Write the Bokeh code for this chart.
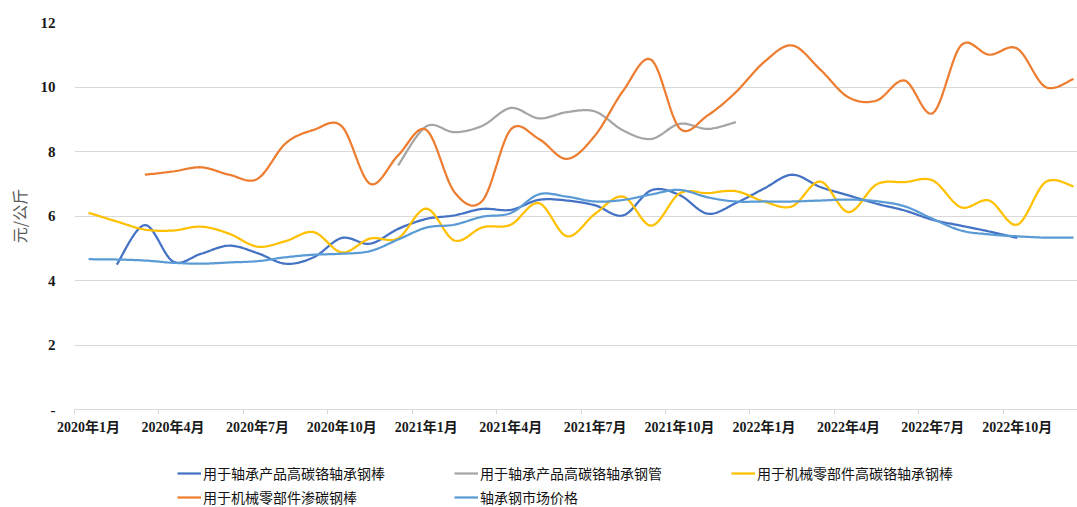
import numpy as np
from bokeh.plotting import figure
from bokeh.layouts import column
from bokeh.models import FixedTicker, Legend, LegendItem, Range1d
from bokeh.embed import file_html
from bokeh.resources import INLINE

nan = float("nan")

# categories: monthly, 2020-01 .. 2022-12
months = [f"{y}年{m}月" for y in (2020, 2021, 2022) for m in range(1, 13)]
tick_idx = list(range(0, 36, 3))
y_ticks = [0, 2, 4, 6, 8, 10, 12]
y_labels = {0: "-", 2: "2", 4: "4", 6: "6", 8: "8", 10: "10", 12: "12"}

names = ["用于轴承产品高碳铬轴承钢棒", "用于轴承产品高碳铬轴承钢管", "用于机械零部件高碳铬轴承钢棒",
         "用于机械零部件渗碳钢棒", "轴承钢市场价格"]

bearing_bar = [nan, 4.49, 5.72, 4.59, 4.83, 5.08, 4.85, 4.52, 4.72, 5.32, 5.14, 5.60,
               5.91, 6.02, 6.22, 6.19, 6.50, 6.48, 6.33, 6.02, 6.80, 6.65, 6.07, 6.40,
               6.85, 7.28, 6.90, 6.64, 6.38, 6.17, 5.88, 5.70, 5.52, 5.32, nan, nan]
bearing_pipe = [nan] * 11 + [7.57, 8.78, 8.60, 8.80, 9.35, 9.03, 9.22, 9.24, 8.65, 8.39,
                             8.86, 8.70, 8.91] + [nan] * 12
mech_gcr_bar = [6.10, 5.83, 5.58, 5.55, 5.67, 5.45, 5.05, 5.22, 5.50, 4.87, 5.30, 5.31,
                6.23, 5.24, 5.65, 5.73, 6.40, 5.37, 6.07, 6.60, 5.70, 6.70, 6.71, 6.77,
                6.45, 6.30, 7.07, 6.12, 6.98, 7.05, 7.10, 6.27, 6.48, 5.73, 7.05, 6.92]
mech_carb_bar = [nan, nan, 7.28, 7.38, 7.51, 7.28, 7.15, 8.25, 8.67, 8.78, 7.00, 7.88,
                 8.67, 6.74, 6.48, 8.68, 8.39, 7.77, 8.50, 9.89, 10.84, 8.72, 9.12, 9.84,
                 10.77, 11.29, 10.54, 9.68, 9.58, 10.20, 9.19, 11.29, 11.00, 11.19, 10.00, 10.25]
market_price = [4.66, 4.65, 4.62, 4.55, 4.52, 4.56, 4.60, 4.72, 4.80, 4.83, 4.91, 5.27,
                5.64, 5.73, 5.98, 6.09, 6.67, 6.60, 6.45, 6.50, 6.67, 6.81, 6.58, 6.45,
                6.45, 6.45, 6.48, 6.51, 6.46, 6.30, 5.91, 5.55, 5.43, 5.37, 5.33, 5.33]

series = [bearing_bar, bearing_pipe, mech_gcr_bar, mech_carb_bar, market_price]
colors = ["#4472C4", "#A5A5A5", "#FFC000", "#ED7D31", "#5B9BD5"]


def smooth(values, steps=16):
    """Catmull-Rom (Excel-like smoothed line) rendering of each contiguous run."""
    xs_out, ys_out = [], []
    vals = list(values)
    i = 0
    n = len(vals)
    while i < n:
        if np.isnan(vals[i]):
            i += 1
            continue
        j = i
        while j < n and not np.isnan(vals[j]):
            j += 1
        px = np.arange(i, j, dtype=float)
        py = np.array(vals[i:j], dtype=float)
        m = len(px)
        for k in range(m - 1):
            p0 = (px[max(k - 1, 0)], py[max(k - 1, 0)])
            p1 = (px[k], py[k])
            p2 = (px[k + 1], py[k + 1])
            p3 = (px[min(k + 2, m - 1)], py[min(k + 2, m - 1)])
            c1 = (p1[0] + (p2[0] - p0[0]) / 6, p1[1] + (p2[1] - p0[1]) / 6)
            c2 = (p2[0] - (p3[0] - p1[0]) / 6, p2[1] - (p3[1] - p1[1]) / 6)
            t = np.linspace(0, 1, steps, endpoint=(k == m - 2))
            a = (1 - t) ** 3
            b = 3 * (1 - t) ** 2 * t
            c = 3 * (1 - t) * t ** 2
            d = t ** 3
            xs_out += list(a * p1[0] + b * c1[0] + c * c2[0] + d * p2[0])
            ys_out += list(a * p1[1] + b * c1[1] + c * c2[1] + d * p2[1])
        xs_out.append(nan)
        ys_out.append(nan)
        i = j
    return xs_out, ys_out


W = 1077
p = figure(width=W, height=439, x_range=Range1d(-0.5, 35.14), y_range=Range1d(0, 12),
           output_backend="svg", toolbar_location=None,
           min_border_left=74, min_border_top=22, min_border_right=0, min_border_bottom=30)
p.outline_line_color = None
p.xgrid.grid_line_color = None
p.ygrid.grid_line_color = "#d9d9d9"
p.ygrid.grid_line_width = 1

serif = "'Liberation Serif', 'Noto Sans CJK SC'"

p.yaxis.ticker = FixedTicker(ticks=y_ticks)
p.yaxis.major_label_overrides = y_labels
p.yaxis.axis_line_color = None
p.yaxis.major_tick_line_color = None
p.yaxis.minor_tick_line_color = None
p.yaxis.major_tick_out = 0
p.yaxis.major_label_standoff = 19
p.yaxis.major_label_text_font = serif
p.yaxis.major_label_text_font_style = "bold"
p.yaxis.major_label_text_font_size = "15px"
p.yaxis.major_label_text_color = "#1a1a1a"
p.yaxis.axis_label = "元/公斤"
p.yaxis.axis_label_text_font = "Noto Sans CJK SC"
p.yaxis.axis_label_text_font_style = "normal"
p.yaxis.axis_label_text_font_size = "16px"
p.yaxis.axis_label_text_color = "#595959"
p.yaxis.axis_label_standoff = 7

p.xaxis.ticker = FixedTicker(ticks=tick_idx, minor_ticks=[i - 0.5 for i in tick_idx])
p.xaxis.major_label_overrides = {i: months[i] for i in tick_idx}
p.xaxis.axis_line_color = "#d9d9d9"
p.xaxis.major_tick_line_color = None
p.xaxis.major_tick_out = 5
p.xaxis.minor_tick_line_color = "#d9d9d9"
p.xaxis.minor_tick_in = 0
p.xaxis.minor_tick_out = 5
p.xaxis.major_label_standoff = 5
p.xaxis.major_label_text_font = serif
p.xaxis.major_label_text_font_style = "bold"
p.xaxis.major_label_text_font_size = "14px"
p.xaxis.major_label_text_color = "#1a1a1a"

# legend lives in its own strip below the chart
q = figure(width=W, height=68, x_range=Range1d(-0.5, 35.14), y_range=Range1d(100, 101),
           output_backend="svg", toolbar_location=None,
           x_axis_location=None, y_axis_location=None,
           min_border_left=0, min_border_top=0, min_border_right=0, min_border_bottom=0)
q.outline_line_color = None
q.xgrid.grid_line_color = None
q.ygrid.grid_line_color = None

items = []
for name, vals, col in zip(names, series, colors):
    xs, ys = smooth(vals)
    p.line(xs, ys, line_color=col, line_width=2.25)
    rq = q.line(xs, ys, line_color=col, line_width=2.25)
    items.append(LegendItem(label=name, renderers=[rq]))

legend = Legend(items=items, ncols=3, orientation="horizontal", location=(103, 0),
                label_text_font="Noto Sans CJK SC", label_text_font_size="14px",
                label_text_color="#111111", glyph_width=24, glyph_height=18,
                label_height=18, label_width=247, label_standoff=2, spacing=4,
                padding=0, margin=0, border_line_color=None, background_fill_alpha=0)
q.add_layout(legend, "center")

open("out.html", "w").write(file_html(column(p, q, spacing=0), INLINE))
